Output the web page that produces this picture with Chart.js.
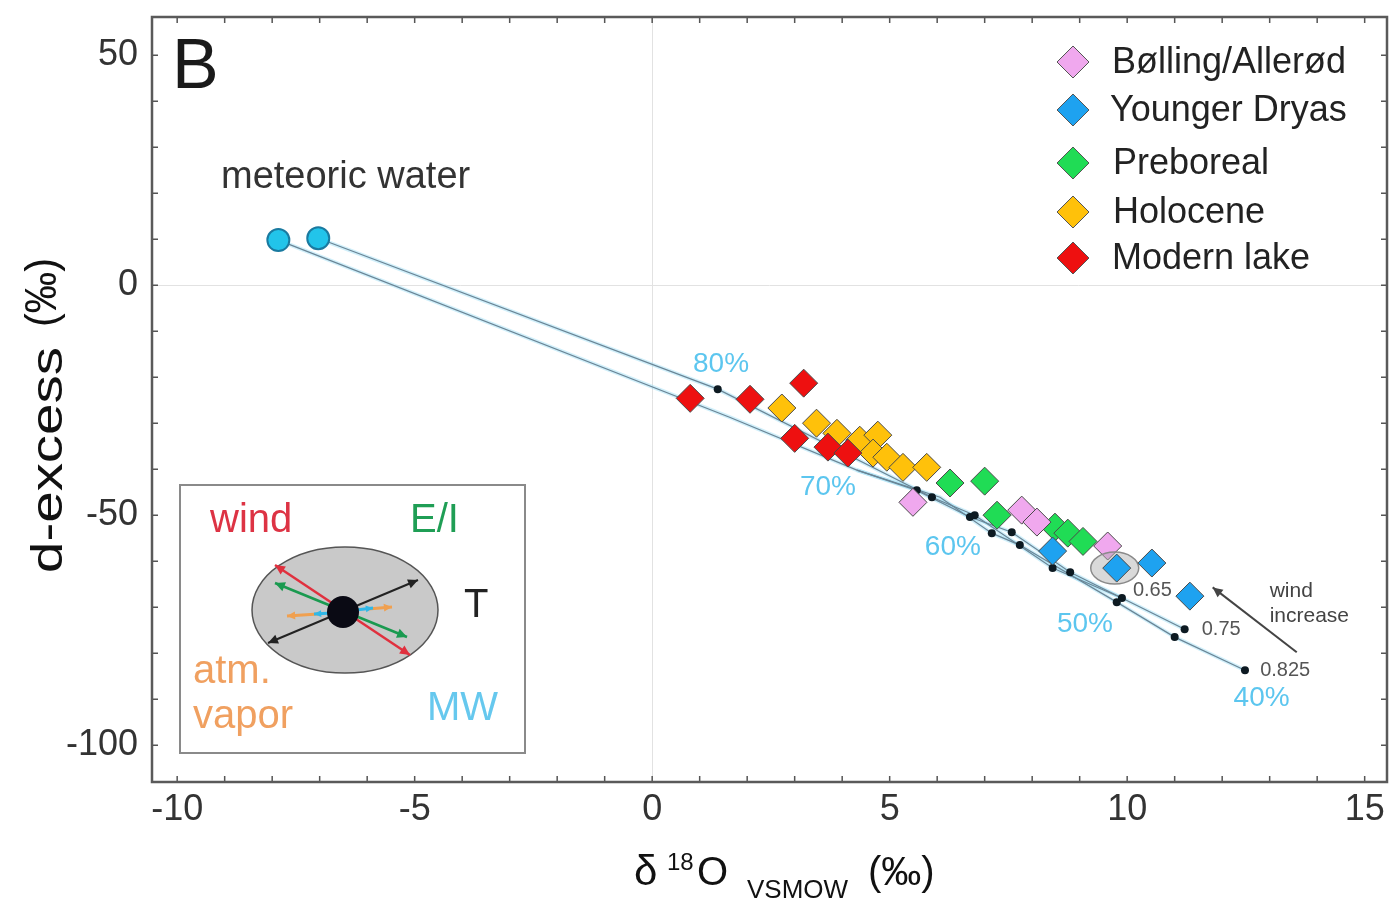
<!DOCTYPE html>
<html>
<head>
<meta charset="utf-8">
<script src="https://cdn.jsdelivr.net/npm/chart.js@4.4.1/dist/chart.umd.min.js"></script>
<style>
  html, body { margin: 0; padding: 0; background: #fff; }
  canvas { display: block; }
</style>
</head>
<body>
<canvas id="chart" width="1392" height="905"></canvas>
<script>
// ── Data ───────────────────────────────────────────────────────────────────

const X_MIN = -10.53, X_MAX = 15.47;
const Y_MIN = -108, Y_MAX = 58.3;
const X_TICKS = [-10, -5, 0, 5, 10, 15];
const Y_TICKS = [-100, -50, 0, 50];

// meteoric water (start of the evaporation paths)
const MW_X = [-7.87, -7.03];
const MW_Y = [9.8, 10.2];

const BA_X = [5.49, 7.78, 8.10, 9.59];
const BA_Y = [-47.2, -48.9, -51.5, -56.7];

const YD_X = [8.43, 9.78, 10.52, 11.32];
const YD_Y = [-57.8, -61.5, -60.4, -67.6];

const PB_X = [6.27, 7.00, 7.26, 8.48, 8.75, 9.07];
const PB_Y = [-43.0, -42.6, -50.0, -52.6, -53.9, -55.7];

const HO_X = [2.73, 3.46, 3.89, 4.37, 4.75, 4.65, 4.94, 5.28, 5.78];
const HO_Y = [-26.7, -30.0, -32.2, -33.7, -32.6, -36.5, -37.4, -39.6, -39.6];

const ML_X = [0.80, 2.06, 3.19, 3.00, 3.70, 4.12];
const ML_Y = [-24.6, -24.8, -21.3, -33.3, -35.2, -36.5];

// modelled evaporation paths
const PATH1_X = [-7.03, 1.38, 5.89, 6.79, 8.43, 9.89];
const PATH1_Y = [10.2, -22.6, -46.1, -50.0, -61.5, -68.0];
const PATH2_X = [-7.87, 1.63, 4.31, 5.57, 6.69, 7.57, 8.80, 11.21];
const PATH2_Y = [9.8, -28.7, -40.2, -44.6, -50.4, -53.7, -62.4, -74.8];
const PATH3_X = [4.31, 6.06, 7.15, 7.74, 9.78, 11.00, 12.48];
const PATH3_Y = [-40.2, -46.1, -53.9, -56.5, -68.9, -76.5, -83.7];

// model steps (black dots)
const STEP_X = [1.38, 5.57, 5.89, 6.69, 6.79, 7.15, 7.57, 7.74, 8.43, 8.80, 9.78, 9.89, 11.00, 11.21, 12.48];
const STEP_Y = [-22.6, -44.6, -46.1, -50.4, -50.0, -53.9, -53.7, -56.5, -61.5, -62.4, -68.9, -68.0, -76.5, -74.8, -83.7];

// remaining fraction labels
const PCT_LABELS = ['80%', '70%', '60%', '50%', '40%'];
const PCT_X = [1.45, 3.70, 6.33, 9.11, 12.83];
const PCT_Y = [-17.2, -43.9, -57.0, -73.7, -89.8];

// humidity labels
const H_LABELS = ['0.65', '0.75', '0.825'];
const H_X = [10.12, 11.57, 12.80];
const H_Y = [-66.3, -74.8, -83.7];

const LEGEND_LABELS = ['Bølling/Allerød', 'Younger Dryas', 'Preboreal', 'Holocene', 'Modern lake'];
const LEGEND_COLORS = ['#f0a8ee', '#1ea2f0', '#20dc55', '#ffc10a', '#ee1010'];

const FONT = '"Liberation Sans", Arial, Helvetica, sans-serif';

// ── Helpers ────────────────────────────────────────────────────────────────

const toPts = (xs, ys) => xs.map((x, i) => ({ x, y: ys[i] }));

function diamonds(label, xs, ys, color, order) {
  return {
    label, data: toPts(xs, ys), order,
    pointStyle: 'rectRot', pointRadius: 14, pointHoverRadius: 14,
    backgroundColor: color, borderColor: '#4a4a4a', borderWidth: 1,
  };
}

function path(label, xs, ys, color, width, order) {
  return {
    label, data: toPts(xs, ys), order, showLine: true,
    borderColor: color, borderWidth: width, pointRadius: 0, tension: 0,
  };
}

function arrowHead(ctx, x0, y0, x1, y1, size) {
  const a = Math.atan2(y1 - y0, x1 - x0);
  ctx.beginPath();
  ctx.moveTo(x1, y1);
  ctx.lineTo(x1 - size * Math.cos(a - 0.45), y1 - size * Math.sin(a - 0.45));
  ctx.lineTo(x1 - size * Math.cos(a + 0.45), y1 - size * Math.sin(a + 0.45));
  ctx.closePath();
  ctx.fill();
}

function arrow(ctx, x0, y0, x1, y1, color, width, size, both) {
  ctx.strokeStyle = color; ctx.fillStyle = color; ctx.lineWidth = width;
  ctx.beginPath(); ctx.moveTo(x0, y0); ctx.lineTo(x1, y1); ctx.stroke();
  arrowHead(ctx, x0, y0, x1, y1, size);
  if (both) arrowHead(ctx, x1, y1, x0, y0, size);
}

// ── Plugins ────────────────────────────────────────────────────────────────

// grey ellipse behind the circled Younger Dryas sample
const highlight = {
  id: 'highlight',
  beforeDatasetDraw(chart, args) {
    if (chart.data.datasets[args.index].label !== 'Younger Dryas') return;
    const { ctx, scales: { x, y } } = chart;
    ctx.save();
    ctx.beginPath();
    ctx.ellipse(x.getPixelForValue(YD_X[1]) - 2, y.getPixelForValue(YD_Y[1]), 24, 16, 0, 0, Math.PI * 2);
    ctx.fillStyle = 'rgba(170,170,170,0.45)';
    ctx.fill();
    ctx.strokeStyle = '#8a8a8a'; ctx.lineWidth = 1.5;
    ctx.stroke();
    ctx.restore();
  },
};

const frame = {
  id: 'frame',
  afterDatasetsDraw(chart) {
    const { ctx, chartArea: a, scales: { x, y } } = chart;
    ctx.save();
    ctx.strokeStyle = '#555'; ctx.lineWidth = 1.5;
    ctx.beginPath();
    for (let v = -10; v <= 15; v++) {
      const p = x.getPixelForValue(v);
      ctx.moveTo(p, a.bottom); ctx.lineTo(p, a.bottom - 6);
      ctx.moveTo(p, a.top); ctx.lineTo(p, a.top + 6);
    }
    for (let v = -100; v <= 50; v += 10) {
      const p = y.getPixelForValue(v);
      ctx.moveTo(a.left, p); ctx.lineTo(a.left + 6, p);
      ctx.moveTo(a.right, p); ctx.lineTo(a.right - 6, p);
    }
    ctx.stroke();
    ctx.lineWidth = 2.5; ctx.strokeStyle = '#5a5a5a';
    ctx.strokeRect(a.left, a.top, a.right - a.left, a.bottom - a.top);
    ctx.restore();
  },
};

const annotations = {
  id: 'annotations',
  afterDatasetsDraw(chart) {
    const { ctx, chartArea: a, scales: { x, y } } = chart;
    ctx.save();
    ctx.textBaseline = 'alphabetic'; ctx.textAlign = 'left';

    ctx.fillStyle = '#1a1a1a';
    ctx.font = `70px ${FONT}`;
    ctx.fillText('B', a.left + 20, 88);

    ctx.fillStyle = '#333';
    ctx.font = `38px ${FONT}`;
    ctx.fillText('meteoric water', 221, 188);

    ctx.textAlign = 'center'; ctx.textBaseline = 'middle';
    ctx.fillStyle = '#5cc6ef';
    ctx.font = `28px ${FONT}`;
    PCT_LABELS.forEach((t, i) => ctx.fillText(t, x.getPixelForValue(PCT_X[i]), y.getPixelForValue(PCT_Y[i])));

    ctx.textAlign = 'left';
    ctx.fillStyle = '#555';
    ctx.font = `20px ${FONT}`;
    H_LABELS.forEach((t, i) => ctx.fillText(t, x.getPixelForValue(H_X[i]), y.getPixelForValue(H_Y[i])));

    // wind increase arrow
    arrow(ctx, x.getPixelForValue(13.57), y.getPixelForValue(-79.8),
      x.getPixelForValue(11.80), y.getPixelForValue(-65.7), '#444', 2, 11, false);
    ctx.fillStyle = '#444';
    ctx.textBaseline = 'alphabetic';
    ctx.font = `21px ${FONT}`;
    ctx.fillText('wind', x.getPixelForValue(13.0), y.getPixelForValue(-67.8));
    ctx.fillText('increase', x.getPixelForValue(13.0), y.getPixelForValue(-73.3));

    // legend
    ctx.font = `36px ${FONT}`;
    const rowY = [62, 110, 163, 212, 258];
    const textX = [1112, 1110, 1113, 1113, 1112];
    LEGEND_LABELS.forEach((t, i) => {
      const cx = 1073, cy = rowY[i], r = 16;
      ctx.beginPath();
      ctx.moveTo(cx - r, cy); ctx.lineTo(cx, cy - r); ctx.lineTo(cx + r, cy); ctx.lineTo(cx, cy + r);
      ctx.closePath();
      ctx.fillStyle = LEGEND_COLORS[i]; ctx.fill();
      ctx.strokeStyle = '#555'; ctx.lineWidth = 1; ctx.stroke();
      ctx.fillStyle = '#222';
      ctx.textBaseline = 'middle';
      ctx.fillText(t, textX[i], cy + 1);
    });
    ctx.restore();
  },
};

// conceptual inset (lower left)
const inset = {
  id: 'inset',
  afterDraw(chart) {
    const { ctx } = chart;
    ctx.save();
    ctx.fillStyle = '#fff';
    ctx.fillRect(180, 485, 345, 268);
    ctx.strokeStyle = '#8a8a8a'; ctx.lineWidth = 2;
    ctx.strokeRect(180, 485, 345, 268);

    ctx.beginPath();
    ctx.ellipse(345, 610, 93, 63, 0, 0, Math.PI * 2);
    ctx.fillStyle = '#c9c9c9'; ctx.fill();
    ctx.strokeStyle = '#555'; ctx.lineWidth = 1.5; ctx.stroke();

    arrow(ctx, 268, 643, 418, 580, '#222', 2, 11, true);
    arrow(ctx, 275, 565, 410, 655, '#e0303e', 2.5, 11, true);
    arrow(ctx, 275, 583, 407, 637, '#1a9a50', 2.5, 11, true);
    arrow(ctx, 318, 614, 287, 616, '#f0a050', 3, 9, false);
    arrow(ctx, 368, 609, 392, 607, '#f0a050', 3, 9, false);
    arrow(ctx, 332, 613, 314, 614, '#30b8e8', 3, 8, false);
    arrow(ctx, 356, 610, 373, 608, '#30b8e8', 3, 8, false);

    ctx.beginPath();
    ctx.arc(343, 612, 16, 0, Math.PI * 2);
    ctx.fillStyle = '#0a0a14'; ctx.fill();

    ctx.font = `40px ${FONT}`;
    ctx.textAlign = 'left'; ctx.textBaseline = 'alphabetic';
    ctx.fillStyle = '#dd3344'; ctx.fillText('wind', 210, 532);
    ctx.fillStyle = '#1f9e55'; ctx.fillText('E/I', 410, 532);
    ctx.fillStyle = '#222'; ctx.fillText('T', 464, 617);
    ctx.fillStyle = '#f0a060'; ctx.fillText('atm.', 193, 683); ctx.fillText('vapor', 193, 728);
    ctx.fillStyle = '#66c8ee'; ctx.fillText('MW', 427, 720);
    ctx.restore();
  },
};

// axis titles with super/subscripts
const titles = {
  id: 'titles',
  afterDraw(chart) {
    const { ctx } = chart;
    ctx.save();
    ctx.fillStyle = '#111';
    ctx.textAlign = 'left'; ctx.textBaseline = 'alphabetic';

    // y title
    ctx.save();
    ctx.font = `44px ${FONT}`;
    ctx.translate(62, 573); ctx.rotate(-Math.PI / 2);
    ctx.scale(226 / ctx.measureText('d-excess').width, 1);
    ctx.fillText('d-excess', 0, 0);
    ctx.restore();
    ctx.save();
    ctx.font = `44px ${FONT}`;
    ctx.translate(56, 327); ctx.rotate(-Math.PI / 2);
    ctx.scale(69 / ctx.measureText('(‰)').width, 1);
    ctx.fillText('(‰)', 0, 0);
    ctx.restore();

    // x title
    const base = 885;
    ctx.font = `42px ${FONT}`; ctx.fillText('δ', 634, base);
    ctx.font = `24px ${FONT}`; ctx.fillText('18', 667, 870);
    ctx.font = `40px ${FONT}`; ctx.fillText('O', 697, base);
    ctx.font = `26px ${FONT}`; ctx.fillText('VSMOW', 747, 898);
    ctx.font = `40px ${FONT}`; ctx.fillText('(‰)', 868, base);
    ctx.restore();
  },
};

// ── Chart ──────────────────────────────────────────────────────────────────

const datasets = [
  diamonds('Modern lake', ML_X, ML_Y, LEGEND_COLORS[4], 0),
  diamonds('Younger Dryas', YD_X, YD_Y, LEGEND_COLORS[1], 1),
  diamonds('Bølling/Allerød', BA_X, BA_Y, LEGEND_COLORS[0], 2),
  diamonds('Preboreal', PB_X, PB_Y, LEGEND_COLORS[2], 3),
  diamonds('Holocene', HO_X, HO_Y, LEGEND_COLORS[3], 4),
  {
    label: 'meteoric water', data: toPts(MW_X, MW_Y), order: 0,
    pointStyle: 'circle', pointRadius: 11, backgroundColor: '#22c4ea', borderColor: '#1a7aa0', borderWidth: 2,
  },
  {
    label: 'model steps', data: toPts(STEP_X, STEP_Y), order: 5,
    pointStyle: 'circle', pointRadius: 4, backgroundColor: '#0d1a22', borderColor: '#0d1a22', borderWidth: 0,
  },
  path('path 1', PATH1_X, PATH1_Y, '#6a8596', 1.2, 6),
  path('path 2', PATH2_X, PATH2_Y, '#6a8596', 1.2, 6),
  path('path 3', PATH3_X, PATH3_Y, '#6a8596', 1.2, 6),
  path('path 1 halo', PATH1_X, PATH1_Y, 'rgba(150,220,245,0.45)', 4, 7),
  path('path 2 halo', PATH2_X, PATH2_Y, 'rgba(150,220,245,0.45)', 4, 7),
  path('path 3 halo', PATH3_X, PATH3_Y, 'rgba(150,220,245,0.45)', 4, 7),
];

const zeroGrid = c => (c.tick && c.tick.value === 0 ? '#e2e2e2' : 'rgba(0,0,0,0)');

new Chart(document.getElementById('chart').getContext('2d'), {
  type: 'scatter',
  data: { datasets },
  options: {
    responsive: false, animation: false, devicePixelRatio: 1,
    layout: { autoPadding: false, padding: { top: 17, right: 5, left: 0, bottom: 0 } },
    plugins: { legend: { display: false }, tooltip: { enabled: false } },
    scales: {
      x: {
        type: 'linear', min: X_MIN, max: X_MAX,
        afterBuildTicks: s => { s.ticks = X_TICKS.map(v => ({ value: v })); },
        afterFit: s => { s.height = 123; s.paddingLeft = 0; s.paddingRight = 0; },
        grid: { drawTicks: false, color: zeroGrid, lineWidth: 1 },
        border: { display: false },
        ticks: { color: '#333', font: { family: FONT, size: 36 }, padding: 6, autoSkip: false, maxRotation: 0 },
      },
      y: {
        type: 'linear', min: Y_MIN, max: Y_MAX,
        afterBuildTicks: s => { s.ticks = Y_TICKS.map(v => ({ value: v })); },
        afterFit: s => { s.width = 152; s.paddingTop = 0; s.paddingBottom = 0; },
        grid: { drawTicks: false, color: zeroGrid, lineWidth: 1 },
        border: { display: false },
        ticks: { color: '#333', font: { family: FONT, size: 36 }, padding: 14, autoSkip: false },
      },
    },
  },
  plugins: [highlight, frame, annotations, inset, titles],
});
</script>
</body>
</html>
